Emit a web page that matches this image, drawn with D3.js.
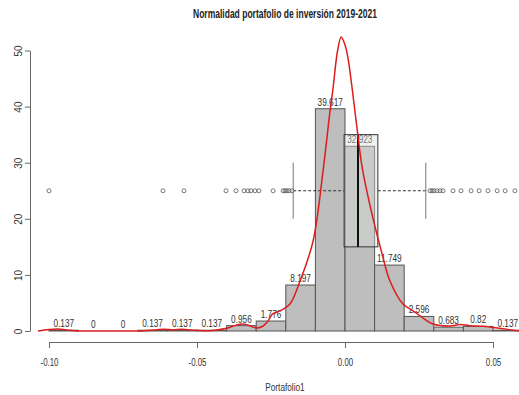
<!DOCTYPE html>
<html>
<head>
<meta charset="utf-8">
<script src="https://cdn.jsdelivr.net/npm/d3@7"></script>
<style>
  body { margin: 0; background: #fff; }
  svg { display: block; font-family: "Liberation Sans", Arial, sans-serif; }
</style>
</head>
<body>
<svg id="visualization"></svg>
<script>
// histogram bins (left edges) and heights
const binStarts = [-0.10, -0.09, -0.08, -0.07, -0.06, -0.05, -0.04, -0.03, -0.02, -0.01, 0.00, 0.01, 0.02, 0.03, 0.04, 0.05];
const binWidth = 0.01;
const binValues = [0.137, 0, 0, 0.137, 0.137, 0.137, 0.956, 1.776, 8.197, 39.617, 32.923, 11.749, 2.596, 0.683, 0.82, 0.137];

// density curve
const densX = [-0.1037, -0.100, -0.097, -0.094, -0.090, -0.080, -0.070, -0.064, -0.061, -0.058, -0.055, -0.052, -0.048,
  -0.044, -0.040, -0.037, -0.0345, -0.032, -0.030, -0.028, -0.026, -0.0245, -0.0213, -0.0186, -0.0152, -0.0108,
  -0.0074, -0.0051, -0.0041, -0.0025, -0.0013, 0.0000, 0.0010, 0.0041, 0.0057, 0.0091, 0.0125, 0.0152, 0.0196,
  0.0230, 0.0264, 0.0297, 0.0355, 0.0389, 0.0420, 0.0466, 0.0534, 0.0590];
const densY = [0, 0.25, 0.35, 0.2, 0.02, 0, 0.02, 0.2, 0.3, 0.2, 0.3, 0.2, 0.05,
  0.15, 0.5, 1.0, 1.25, 0.9, 0.55, 0.8, 1.8, 3.0, 3.75, 4.8, 8.9, 16,
  28.6, 39, 43, 50, 52.4, 51, 48.7, 36, 29.5, 20.9, 13.8, 8.9, 4.8,
  3.6, 2.3, 1.25, 0.9, 1.15, 0.95, 0.85, 0.4, 0];

// boxplot stats and outliers
const boxStats = { lo: -0.0175, q1: -0.0003, med: 0.0044, q3: 0.0111, hi: 0.0273 };
const boxCenter = 25;
const outliers = [-0.1000, -0.0615, -0.0544, -0.0402, -0.0368, -0.0341, -0.0328, -0.0318, -0.0304, -0.0291,
  -0.0243, -0.0209, -0.0203, -0.0196, -0.0189, -0.0179,
  0.0287, 0.0294, 0.0301, 0.0311, 0.0321, 0.0331, 0.0365, 0.0392, 0.0426, 0.0453, 0.0483, 0.0514, 0.0541, 0.0574];

const xTicks = [-0.10, -0.05, 0.00, 0.05];
const xTickLabels = ['-0.10', '-0.05', '0.00', '0.05'];
const yTicks = [0, 10, 20, 30, 40, 50];

const width = 519;
const height = 395;
const squeeze = 0.75; // the reference text is horizontally compressed

const svg = d3.select('#visualization')
  .attr('width', width)
  .attr('height', height);

const x = d3.scaleLinear().domain([-0.10, 0.05]).range([49, 493]);
const y = d3.scaleLinear().domain([0, 50]).range([331, 50.5]);

// bars
svg.append('g')
  .selectAll('rect')
  .data(binStarts)
  .join('rect')
  .attr('x', d => x(d))
  .attr('width', d => x(d + binWidth) - x(d))
  .attr('y', (d, i) => y(binValues[i]))
  .attr('height', (d, i) => y(0) - y(binValues[i]))
  .attr('fill', '#bebebe')
  .attr('stroke', '#555')
  .attr('stroke-width', 1);

// bar labels
svg.append('g')
  .selectAll('text')
  .data(binStarts)
  .join('text')
  .attr('transform', (d, i) => `translate(${x(d + binWidth / 2)},${y(binValues[i]) - 3}) scale(${squeeze},1)`)
  .attr('text-anchor', 'middle')
  .attr('font-size', 11)
  .attr('fill', '#333')
  .text((d, i) => binValues[i]);

// boxplot
const bp = svg.append('g');
bp.selectAll('circle')
  .data(outliers)
  .join('circle')
  .attr('cx', d => x(d))
  .attr('cy', y(boxCenter))
  .attr('r', 2)
  .attr('fill', 'none')
  .attr('stroke', '#444')
  .attr('stroke-width', 0.7);

bp.append('line')
  .attr('x1', x(boxStats.lo)).attr('x2', x(boxStats.q1))
  .attr('y1', y(boxCenter)).attr('y2', y(boxCenter))
  .attr('stroke', '#333').attr('stroke-dasharray', '3,2');
bp.append('line')
  .attr('x1', x(boxStats.q3)).attr('x2', x(boxStats.hi))
  .attr('y1', y(boxCenter)).attr('y2', y(boxCenter))
  .attr('stroke', '#333').attr('stroke-dasharray', '3,2');

[boxStats.lo, boxStats.hi].forEach(v => {
  bp.append('line')
    .attr('x1', x(v)).attr('x2', x(v))
    .attr('y1', y(boxCenter + 5)).attr('y2', y(boxCenter - 5))
    .attr('stroke', '#777').attr('stroke-width', 1);
});

bp.append('rect')
  .attr('x', x(boxStats.q1))
  .attr('width', x(boxStats.q3) - x(boxStats.q1))
  .attr('y', y(boxCenter + 10))
  .attr('height', y(boxCenter - 10) - y(boxCenter + 10))
  .attr('fill', 'rgba(215,222,215,0.4)')
  .attr('stroke', '#333')
  .attr('stroke-width', 1);

bp.append('line')
  .attr('x1', x(boxStats.med)).attr('x2', x(boxStats.med))
  .attr('y1', y(boxCenter + 10)).attr('y2', y(boxCenter - 10))
  .attr('stroke', '#111').attr('stroke-width', 2);

// density curve
const line = d3.line()
  .x((d, i) => x(densX[i]))
  .y(d => y(d))
  .curve(d3.curveCatmullRom);

svg.append('path')
  .datum(densY)
  .attr('d', line)
  .attr('fill', 'none')
  .attr('stroke', '#dd1c1c')
  .attr('stroke-width', 1.5);

// axes
const xAxis = svg.append('g')
  .attr('transform', 'translate(0,342)')
  .call(d3.axisBottom(x).tickValues(xTicks).tickFormat((d, i) => xTickLabels[i]).tickSize(6).tickSizeOuter(0));
xAxis.selectAll('text')
  .attr('font-size', 10.5)
  .attr('fill', '#333')
  .attr('y', 0)
  .attr('dy', 0)
  .attr('transform', `translate(0,24) scale(${squeeze},1)`);

const yAxis = svg.append('g')
  .attr('transform', 'translate(30,0)')
  .call(d3.axisLeft(y).tickValues(yTicks).tickSize(5).tickSizeOuter(0));
yAxis.selectAll('text')
  .attr('font-size', 10)
  .attr('fill', '#333')
  .attr('x', 0)
  .attr('dy', 0)
  .attr('text-anchor', 'middle')
  .attr('transform', 'translate(-8,0) rotate(-90)');

svg.selectAll('.domain, .tick line').attr('stroke', '#666');

// titles
svg.append('text')
  .attr('x', 285).attr('y', 18)
  .attr('text-anchor', 'middle')
  .attr('font-size', 12)
  .attr('font-weight', 'bold')
  .attr('fill', '#222')
  .attr('textLength', 184)
  .attr('lengthAdjust', 'spacingAndGlyphs')
  .text('Normalidad portafolio de inversión 2019-2021');

svg.append('text')
  .attr('transform', `translate(285,391) scale(${squeeze},1)`)
  .attr('text-anchor', 'middle')
  .attr('font-size', 11)
  .attr('fill', '#333')
  .text('Portafolio1');
</script>
</body>
</html>
